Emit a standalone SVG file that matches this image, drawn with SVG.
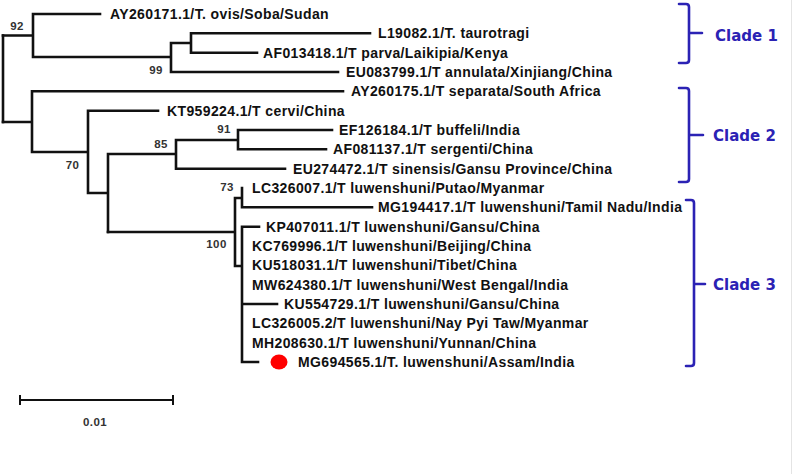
<svg xmlns="http://www.w3.org/2000/svg" width="793" height="474" viewBox="0 0 793 474">
<style>
.br{fill:none;stroke:#111;stroke-width:2.6;stroke-linecap:square}
.lb{font-family:"Liberation Sans",Arial,sans-serif;font-weight:bold;font-size:14px;letter-spacing:0.38px;fill:#111}
.bs{font-family:"Liberation Sans",Arial,sans-serif;font-weight:bold;font-size:11.5px;letter-spacing:0.4px;fill:#333;text-anchor:middle}
.cb{fill:none;stroke:#2b22b4;stroke-width:2.6;stroke-linecap:round;stroke-linejoin:round}
.cl{font-family:"DejaVu Sans",sans-serif;font-weight:bold;font-size:15px;fill:#2b22b4}
</style>
<rect width="793" height="474" fill="#fff"/>
<line x1="791.5" y1="0" x2="791.5" y2="474" stroke="#e4e4e4" stroke-width="1"/>
<g id="connectors">
<path class="br" d="M3,35.5V122"/>
<path class="br" d="M3,35.5H33M33,14V57M33,14H100M33,57H171M171,43V72M171,43H191M191,33.3V52.7M191,33.3H370M191,52.7H257M171,72H338"/>
<path class="br" d="M3,122H32M32,91.3V152M32,91.3H343M32,152H88M88,110.7V193M88,110.7H158M88,193H108M108,154V232M108,154H176M176,140V168.7M176,140H238M238,130V149.3M238,130H332M238,149.3H326M176,168.7H285"/>
<path class="br" d="M108,232H235M235,198V266M235,198H242M242,188V207.3M242,207.3H372M235,266H242M242,226.7V362M242,226.7H259M242,304H277M242,362H258"/>
</g>
<g id="bootstrap">
<text class="bs" x="17" y="30">92</text>
<text class="bs" x="156" y="74">99</text>
<text class="bs" x="224" y="133">91</text>
<text class="bs" x="161" y="148">85</text>
<text class="bs" x="72.5" y="169">70</text>
<text class="bs" x="227" y="191">73</text>
<text class="bs" x="216.5" y="248">100</text>
</g>
<g id="n-AY260171"><text class="lb" x="110" y="19">AY260171.1/T. ovis/Soba/Sudan</text></g>
<g id="n-L19082"><text class="lb" x="378" y="38.3">L19082.1/T. taurotragi</text></g>
<g id="n-AF013418"><text class="lb" x="263" y="57.7">AF013418.1/T parva/Laikipia/Kenya</text></g>
<g id="n-EU083799"><text class="lb" x="346" y="77">EU083799.1/T annulata/Xinjiang/China</text></g>
<g id="n-AY260175"><text class="lb" x="351" y="96.3">AY260175.1/T separata/South Africa</text></g>
<g id="n-KT959224"><text class="lb" x="167" y="115.7">KT959224.1/T cervi/China</text></g>
<g id="n-EF126184"><text class="lb" x="339" y="135">EF126184.1/T buffeli/India</text></g>
<g id="n-AF081137"><text class="lb" x="333" y="154.3">AF081137.1/T sergenti/China</text></g>
<g id="n-EU274472"><text class="lb" x="293" y="173.7">EU274472.1/T sinensis/Gansu Province/China</text></g>
<g id="n-LC326007"><text class="lb" x="252" y="193">LC326007.1/T luwenshuni/Putao/Myanmar</text></g>
<g id="n-MG194417"><text class="lb" x="378" y="212.3">MG194417.1/T luwenshuni/Tamil Nadu/India</text></g>
<g id="n-KP407011"><text class="lb" x="266" y="231.7">KP407011.1/T luwenshuni/Gansu/China</text></g>
<g id="n-KC769996"><text class="lb" x="252" y="251">KC769996.1/T luwenshuni/Beijing/China</text></g>
<g id="n-KU518031"><text class="lb" x="252" y="270.3">KU518031.1/T luwenshuni/Tibet/China</text></g>
<g id="n-MW624380"><text class="lb" x="252" y="289.7">MW624380.1/T luwenshuni/West Bengal/India</text></g>
<g id="n-KU554729"><text class="lb" x="284" y="309">KU554729.1/T luwenshuni/Gansu/China</text></g>
<g id="n-LC326005"><text class="lb" x="252" y="328.3">LC326005.2/T luwenshuni/Nay Pyi Taw/Myanmar</text></g>
<g id="n-MH208630"><text class="lb" x="252" y="347.7">MH208630.1/T luwenshuni/Yunnan/China</text></g>
<g id="n-MG694565"><ellipse cx="279" cy="362" rx="8.5" ry="7.5" fill="#ff0000"/><text class="lb" x="298" y="367">MG694565.1/T. luwenshuni/Assam/India</text></g>
<g id="clade1">
<path class="cb" d="M679,4H686Q689,4 689,7V60Q689,63 686,63H679M689,33H702"/>
<text class="cl" x="715" y="40.5">Clade 1</text>
</g>
<g id="clade2">
<path class="cb" d="M679,88H686Q689,88 689,91V179Q689,182 686,182H679M689,135H703"/>
<text class="cl" x="713" y="140.5">Clade 2</text>
</g>
<g id="clade3">
<path class="cb" d="M686,200H691Q694,200 694,203V363Q694,366 691,366H686M694,284H705"/>
<text class="cl" x="713" y="290">Clade 3</text>
</g>
<g id="scalebar">
<path class="br" d="M20,400H173M20,396V404M173,396V404" style="stroke-width:2"/>
<text class="bs" x="95" y="426">0.01</text>
</g>
</svg>
